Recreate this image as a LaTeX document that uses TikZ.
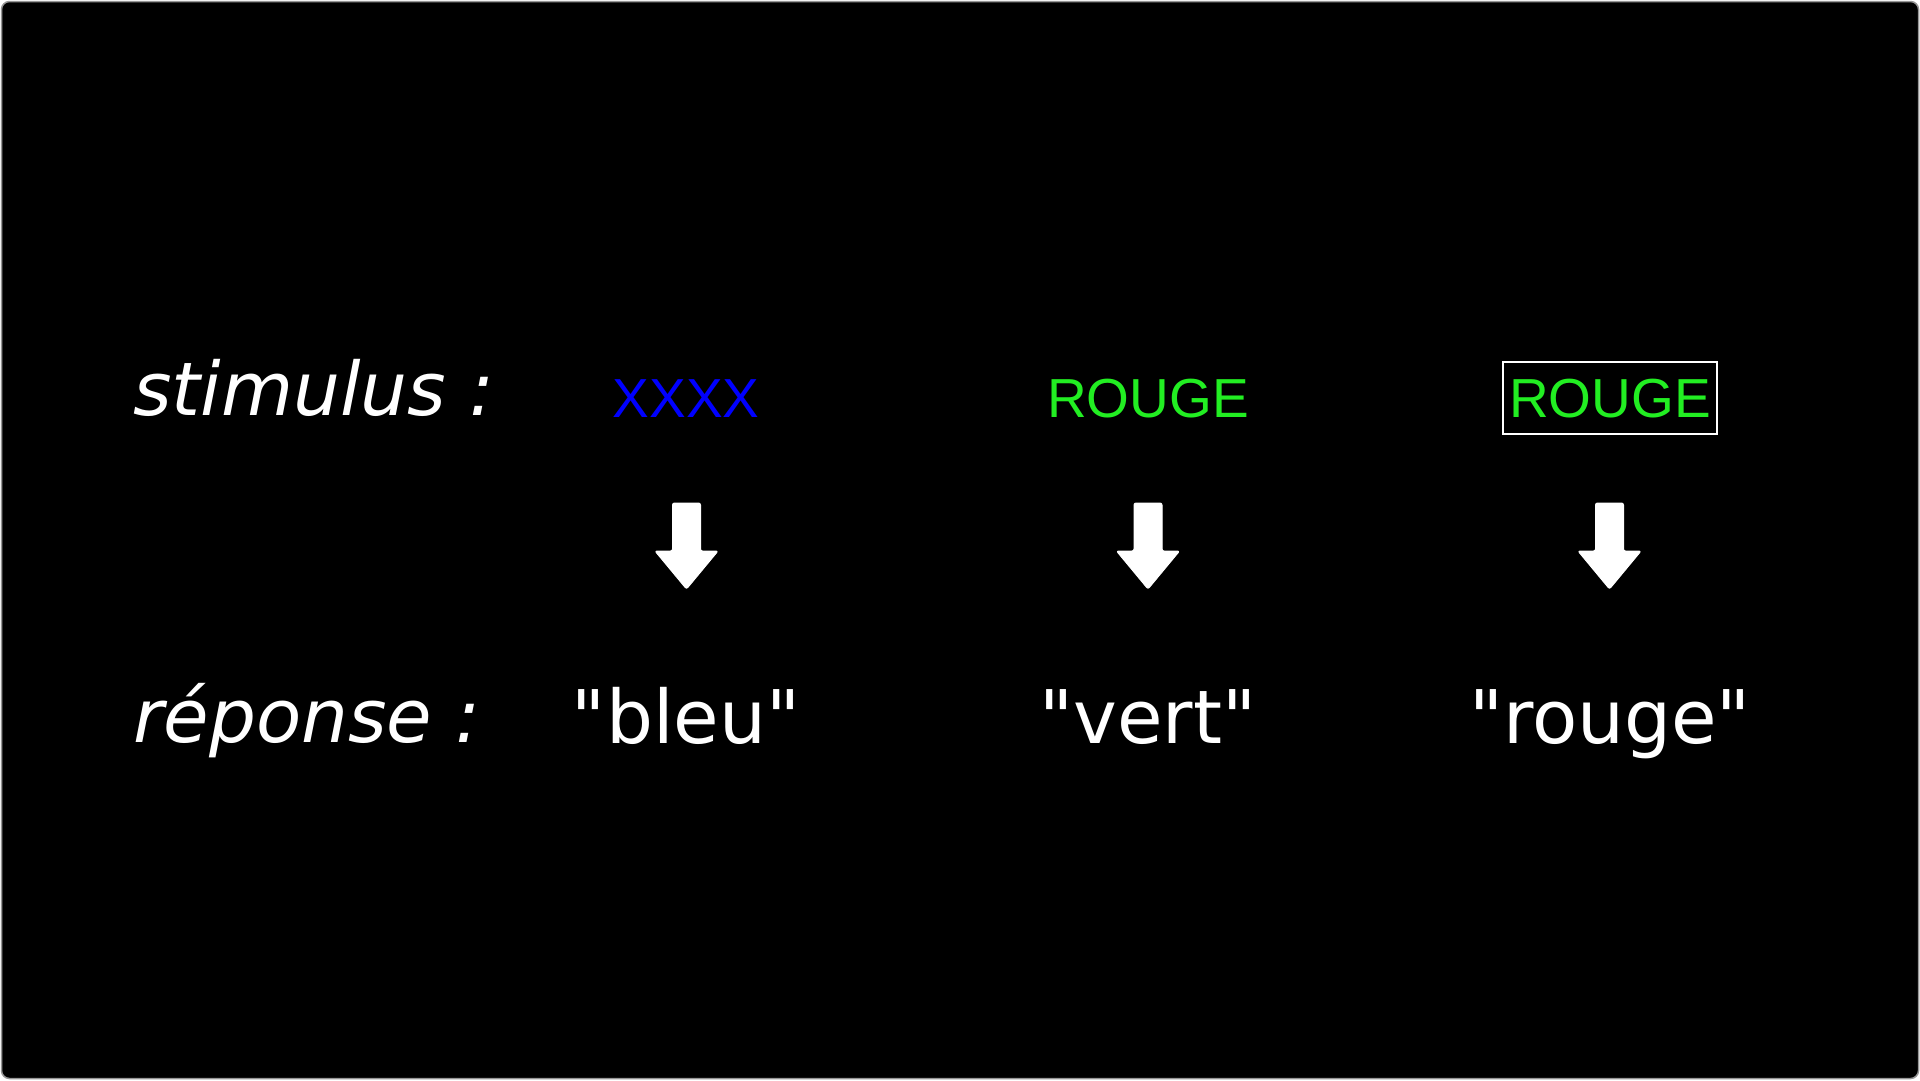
\documentclass[tikz,border=0pt]{standalone}
\usepackage{fontspec}
\setmainfont{DejaVu Sans}[Ligatures=TeXOff]
\newfontfamily\arialfont{Liberation Sans}[Ligatures=TeXOff]
\definecolor{stgreen}{RGB}{34,238,34}
\definecolor{frame}{RGB}{150,150,150}
\tikzset{
  lbl/.style={text=white, font=\fontsize{74}{80}\selectfont\itshape, anchor=base west, inner sep=0pt},
  resp/.style={text=white, font=\fontsize{74}{80}\selectfont, anchor=base, inner sep=0pt},
  stim/.style={font=\arialfont\fontsize{55}{60}\selectfont, anchor=base, inner sep=0pt},
  bigarrow/.style={fill=white, draw=white, line width=1pt, line join=round, rounded corners=2pt},
}
\begin{document}
\begin{tikzpicture}[x=1pt, y=-1pt]
\useasboundingbox (0,0) rectangle (1920,1080);
\fill[white] (0,0) rectangle (1920,1080);
\draw[frame, fill=black, line width=1.5pt, rounded corners=8pt] (1.5,1.5) rectangle (1918.5,1078.5);

\node[lbl] (stimlbl) at (133,415) {stimulus :};
\node[lbl] (replbl) at (133,742) {réponse :};

\node[stim, text=blue] (s1) at (686,417) {XXXX};
\node[stim, text=stgreen] (s2) at (1148,417) {ROUGE};
\node[stim, text=stgreen] (s3) at (1610,417) {ROUGE};
\draw[white, line width=1.3pt] (1503,362) rectangle (1717,434);

\node[resp] (r1) at (686,743) {"bleu"};
\node[resp] (r2) at (1148,743) {"vert"};
\node[resp] (r3) at (1610,743) {"rouge"};

\foreach \cx in {686.5,1148,1609.5}{
  \draw[bigarrow] (\cx-14,503) -- (\cx+14,503) -- (\cx+14,551) -- (\cx+31.5,551)
    -- (\cx,589) -- (\cx-31.5,551) -- (\cx-14,551) -- cycle;
}
\end{tikzpicture}
\end{document}
